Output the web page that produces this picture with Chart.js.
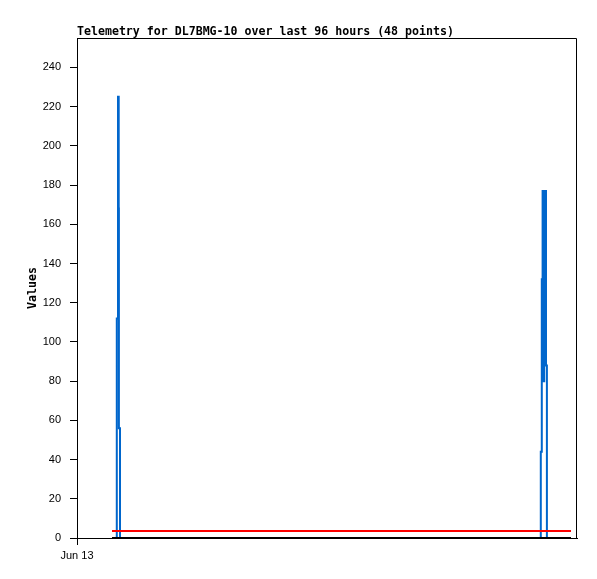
<!DOCTYPE html>
<html>
<head>
<meta charset="utf-8">
<script src="https://cdn.jsdelivr.net/npm/chart.js@4/dist/chart.umd.min.js"></script>
<style>
  html, body { margin: 0; padding: 0; background: #fff; }
  #wrap { width: 597px; height: 579px; }
</style>
</head>
<body>
<div id="wrap"><canvas id="chart" width="597" height="579"></canvas></div>
<script>
// Telemetry plot: hours since Jun 13 00:00 on x, raw values on y.

const TITLE = 'Telemetry for DL7BMG-10 over last 96 hours (48 points)';
const Y_LABEL = 'Values';
const X_TICK_LABEL = 'Jun 13';

// sample times (hours since Jun 13 00:00)
const times = [
  1.68, 1.80, 1.91, 1.968, 2.002, 2.011, 2.064,
  2.7, 3.4, 4.1, 4.8, 5.5, 6.2, 6.9, 7.6, 8.3, 9.0, 9.7, 10.4, 11.1, 11.8,
  12.5, 13.2, 13.9, 14.6, 15.3, 16.0, 16.7, 17.4, 18.1, 18.8, 19.5, 20.2,
  20.9, 21.6, 22.1,
  22.238, 22.262, 22.31, 22.349, 22.387, 22.426, 22.474, 22.512, 22.555,
  22.9, 23.3, 23.712,
];

const seriesBlue = [
  0, 0, 112, 225, 168, 56, 0,
  0, 0, 0, 0, 0, 0, 0, 0, 0, 0, 0, 0, 0, 0,
  0, 0, 0, 0, 0, 0, 0, 0, 0, 0, 0, 0,
  0, 0, 0,
  0, 44, 132, 177, 80, 168, 177, 88, 0,
  0, 0, 0,
];

const seriesRed = [
  3.6, 3.6, 3.6, 3.6, 3.6, 3.6, 3.6,
  3.6, 3.6, 3.6, 3.6, 3.6, 3.6, 3.6, 3.6, 3.6, 3.6, 3.6, 3.6, 3.6, 3.6,
  3.6, 3.6, 3.6, 3.6, 3.6, 3.6, 3.6, 3.6, 3.6, 3.6, 3.6, 3.6,
  3.6, 3.6, 3.6,
  3.6, 3.6, 3.6, 3.6, 3.6, 3.6, 3.6, 3.6, 3.6,
  3.6, 3.6, 3.6,
];

const seriesBlack = [
  0, 0, 0, 0, 0, 0, 0,
  0, 0, 0, 0, 0, 0, 0, 0, 0, 0, 0, 0, 0, 0,
  0, 0, 0, 0, 0, 0, 0, 0, 0, 0, 0, 0,
  0, 0, 0,
  0, 0, 0, 0, 0, 0, 0, 0, 0,
  0, 0, 0,
];

const yTicks = [0, 20, 40, 60, 80, 100, 120, 140, 160, 180, 200, 220, 240];

const MONO = '"DejaVu Sans Mono", "Liberation Mono", monospace';
const SANS = '"Liberation Sans", Arial, sans-serif';

const pts = (ys) => times.map((t, i) => ({ x: t, y: ys[i] }));

// title text and top/right frame lines
const frame = {
  id: 'frame',
  afterDraw(chart) {
    const { ctx, chartArea: a } = chart;
    ctx.save();
    ctx.strokeStyle = '#000';
    ctx.lineWidth = 1;
    ctx.beginPath();
    ctx.moveTo(a.left, a.top + 0.5);
    ctx.lineTo(a.right - 0.5, a.top + 0.5);
    ctx.lineTo(a.right - 0.5, a.bottom);
    ctx.stroke();
    ctx.fillStyle = '#000';
    ctx.font = 'bold 11.6px ' + MONO;
    ctx.textBaseline = 'alphabetic';
    ctx.textAlign = 'left';
    ctx.fillText(TITLE, a.left, 35);
    ctx.restore();
  },
};

new Chart(document.getElementById('chart'), {
  type: 'line',
  data: {
    datasets: [
      { label: 'black', data: pts(seriesBlack), borderColor: '#000', borderWidth: 2, order: 0, clip: 4 },
      { label: 'red', data: pts(seriesRed), borderColor: '#ff0000', borderWidth: 2, order: 1, clip: 4 },
      { label: 'blue', data: pts(seriesBlue), borderColor: '#0066cc', borderWidth: 2, order: 2,
        stepped: 'before', clip: 4 },
    ],
  },
  options: {
    responsive: false,
    animation: false,
    events: [],
    layout: { padding: { left: 0, right: 20, top: 38, bottom: 0 } },
    elements: { point: { radius: 0 }, line: { tension: 0, borderJoinStyle: 'miter' } },
    plugins: { legend: { display: false }, tooltip: { enabled: false } },
    scales: {
      x: {
        type: 'linear',
        min: 0,
        max: 24,
        afterBuildTicks: (s) => { s.ticks = [{ value: 0 }]; },
        afterFit: (s) => { s.height = 41; },
        grid: { drawOnChartArea: false, tickLength: 7, color: '#000' },
        border: { color: '#000', width: 1 },
        ticks: { color: '#000', font: { family: SANS, size: 11 }, padding: 4,
          maxRotation: 0, callback: () => X_TICK_LABEL },
      },
      y: {
        min: 0,
        max: 255,
        afterBuildTicks: (s) => { s.ticks = yTicks.map((v) => ({ value: v })); },
        afterFit: (s) => { s.width = 77; },
        grid: { drawOnChartArea: false, tickLength: 7, color: '#000' },
        border: { color: '#000', width: 1 },
        ticks: { color: '#000', font: { family: SANS, size: 11 }, padding: 9 },
        title: { display: true, text: Y_LABEL, color: '#000',
          font: { family: MONO, size: 11.6, weight: 'bold' }, padding: { top: 26, bottom: 0 } },
      },
    },
  },
  plugins: [frame],
});
</script>
</body>
</html>
